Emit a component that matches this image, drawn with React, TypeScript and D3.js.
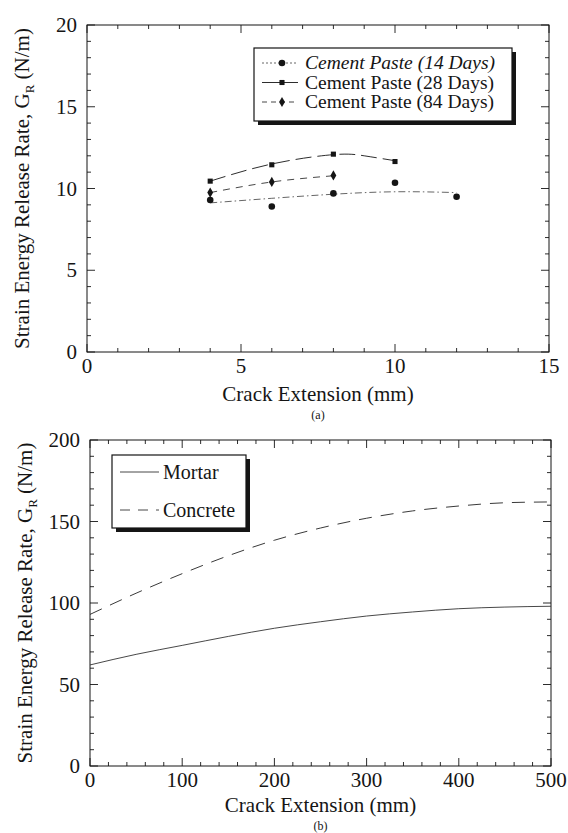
import * as d3 from "d3";

// panel (a): cement paste, measured points
const pasteX14 = [4, 6, 8, 10, 12];
const pasteY14 = [9.3, 8.9, 9.7, 10.35, 9.5];
const pasteX28 = [4, 6, 8, 10];
const pasteY28 = [10.45, 11.45, 12.1, 11.65];
const pasteX84 = [4, 6, 8];
const pasteY84 = [9.75, 10.4, 10.8];

// panel (a): fitted curves
const fitX14 = [4, 6, 8, 10, 12];
const fitY14 = [9.12, 9.4, 9.65, 9.8, 9.75];
const fitX28 = [4, 6, 8, 9, 10];
const fitY28 = [10.45, 11.5, 12.07, 12.0, 11.7];
const fitX84 = [4, 6, 8];
const fitY84 = [9.75, 10.4, 10.78];

// panel (b): mortar / concrete curves
const crackB = [0, 50, 100, 150, 200, 250, 300, 350, 400, 450, 500];
const mortar = [62, 68.5, 74, 79.5, 84.5, 88.5, 92, 94.5, 96.5, 97.5, 98];
const concrete = [93, 106, 118, 129, 138.5, 146, 152, 156.5, 159.5, 161.5, 162];

const ticksA_x = [0, 5, 10, 15];
const ticksA_y = [0, 5, 10, 15, 20];
const ticksB_x = [0, 100, 200, 300, 400, 500];
const ticksB_y = [0, 50, 100, 150, 200];

const legendA = ["Cement Paste (14 Days)", "Cement Paste (28 Days)", "Cement Paste (84 Days)"];
const legendB = ["Mortar", "Concrete"];

const FONT = "Liberation Serif, Times New Roman, Times, serif";
const INK = "#151515";

const zip = (xs: number[], ys: number[]) => xs.map((x, i) => [x, ys[i]] as [number, number]);

function Frame({ x, y, xTicks, yTicks, minorX, minorY, panel, titleDy, panelDy }: any) {
  const [x0, x1] = x.range();
  const [y0, y1] = y.range();
  const minX = d3.range(x.domain()[0], x.domain()[1] + 1e-9, minorX);
  const minY = d3.range(y.domain()[0], y.domain()[1] + 1e-9, minorY);
  return (
    <g>
      <rect x={x0} y={y1} width={x1 - x0} height={y0 - y1} fill="none" stroke={INK} strokeWidth={1} />
      {minX.map((v: number, i: number) => {
        const big = xTicks.includes(+v.toFixed(6));
        const l = big ? 8 : 4;
        return (
          <g key={"mx" + i} stroke={INK} strokeWidth={0.9}>
            <line x1={x(v)} x2={x(v)} y1={y0} y2={y0 - l} />
            <line x1={x(v)} x2={x(v)} y1={y1} y2={y1 + l} />
          </g>
        );
      })}
      {minY.map((v: number, i: number) => {
        const big = yTicks.includes(+v.toFixed(6));
        const l = big ? 8 : 4;
        return (
          <g key={"my" + i} stroke={INK} strokeWidth={0.9}>
            <line x1={x0} x2={x0 + l} y1={y(v)} y2={y(v)} />
            <line x1={x1} x2={x1 - l} y1={y(v)} y2={y(v)} />
          </g>
        );
      })}
      {xTicks.map((v: number) => (
        <text key={"tx" + v} x={x(v)} y={y0 + 21} textAnchor="middle" fontSize={21} fill={INK}>
          {v}
        </text>
      ))}
      {yTicks.map((v: number) => (
        <text key={"ty" + v} x={x0 - 10} y={y(v) + 7} textAnchor="end" fontSize={21} fill={INK}>
          {v}
        </text>
      ))}
      <text x={(x0 + x1) / 2} y={y0 + titleDy} textAnchor="middle" fontSize={21} fill={INK}>
        Crack Extension (mm)
      </text>
      <text x={(x0 + x1) / 2} y={y0 + panelDy} textAnchor="middle" fontSize={12} fill={INK}>
        {panel}
      </text>
      <text
        transform={`translate(${x0 - 58},${(y0 + y1) / 2}) rotate(-90)`}
        textAnchor="middle"
        fontSize={21}
        fill={INK}
      >
        Strain Energy Release Rate, G
        <tspan fontSize={13} dy={5}>R</tspan>
        <tspan dy={-5}> (N/m)</tspan>
      </text>
    </g>
  );
}

export default function App() {
  // panel (a)
  const xa = d3.scaleLinear().domain([0, 15]).range([87, 549]);
  const ya = d3.scaleLinear().domain([0, 20]).range([352, 25]);
  // panel (b)
  const xb = d3.scaleLinear().domain([0, 500]).range([90, 551]);
  const yb = d3.scaleLinear().domain([0, 200]).range([766, 440]);

  const lineA = d3.line<[number, number]>().x((d) => xa(d[0])).y((d) => ya(d[1])).curve(d3.curveNatural);
  const lineB = d3.line<[number, number]>().x((d) => xb(d[0])).y((d) => yb(d[1])).curve(d3.curveMonotoneX);

  const diamond = d3.symbol().type(d3.symbolDiamond).size(30)() as string;
  const square = d3.symbol().type(d3.symbolSquare).size(26)() as string;

  const seriesA = [
    { xs: pasteX14, ys: pasteY14, fx: fitX14, fy: fitY14, dash: "7,3,1.5,3", color: "#555", kind: "circle" },
    { xs: pasteX28, ys: pasteY28, fx: fitX28, fy: fitY28, dash: "16,6", color: INK, kind: "square" },
    { xs: pasteX84, ys: pasteY84, fx: fitX84, fy: fitY84, dash: "7,6", color: "#333", kind: "diamond" },
  ];

  const marker = (kind: string, cx: number, cy: number, key: string) => {
    if (kind === "circle") return <circle key={key} cx={cx} cy={cy} r={3.3} fill={INK} />;
    const p = kind === "square" ? square : diamond;
    return <path key={key} d={p} transform={`translate(${cx},${cy})`} fill={INK} />;
  };

  // legend geometry (a)
  const lgA = { x: 254, y: 48, w: 258, h: 73 };
  // legend geometry (b)
  const lgB = { x: 112, y: 455, w: 134, h: 73 };

  return (
    <div style={{ position: "absolute", left: 0, top: 0, background: "#fff" }}>
      <svg width={568} height={833} style={{ display: "block", fontFamily: FONT }}>
        <rect width={568} height={833} fill="#fff" />

        {/* ---------- panel (a) ---------- */}
        <Frame x={xa} y={ya} xTicks={ticksA_x} yTicks={ticksA_y} minorX={1} minorY={1} panel="(a)" titleDy={49} panelDy={67} />
        {seriesA.map((s, i) => (
          <g key={"sa" + i}>
            <path
              d={lineA(zip(s.fx, s.fy)) as string}
              fill="none"
              stroke={s.color}
              strokeWidth={0.9}
              strokeDasharray={s.dash}
            />
            {s.xs.map((v, j) => marker(s.kind, xa(v), ya(s.ys[j]), `m${i}-${j}`))}
          </g>
        ))}

        <rect x={lgA.x + 4} y={lgA.y + 4} width={lgA.w} height={lgA.h} fill={INK} />
        <rect x={lgA.x} y={lgA.y} width={lgA.w} height={lgA.h} fill="#fff" stroke={INK} strokeWidth={1.2} />
        {legendA.map((t, i) => {
          const cy = lgA.y + 15 + i * 19.5;
          const s = seriesA[i];
          return (
            <g key={"la" + i}>
              <line x1={lgA.x + 8} x2={lgA.x + 44} y1={cy} y2={cy} stroke={s.color} strokeWidth={0.9} strokeDasharray={i === 1 ? "none" : i === 0 ? "2,2" : "5,4"} />
              {marker(s.kind, lgA.x + 28, cy, "lm" + i)}
              <text x={lgA.x + 51} y={cy + 6} fontSize={19.5} fill={INK} fontStyle={i === 0 ? "italic" : "normal"}>
                {t}
              </text>
            </g>
          );
        })}

        {/* ---------- panel (b) ---------- */}
        <Frame x={xb} y={yb} xTicks={ticksB_x} yTicks={ticksB_y} minorX={20} minorY={10} panel="(b)" titleDy={46} panelDy={64} />
        <path d={lineB(zip(crackB, mortar)) as string} fill="none" stroke="#333" strokeWidth={0.9} />
        <path d={lineB(zip(crackB, concrete)) as string} fill="none" stroke="#222" strokeWidth={0.9} strokeDasharray="13,9" />

        <rect x={lgB.x + 4} y={lgB.y + 4} width={lgB.w} height={lgB.h} fill={INK} />
        <rect x={lgB.x} y={lgB.y} width={lgB.w} height={lgB.h} fill="#fff" stroke={INK} strokeWidth={1.2} />
        {legendB.map((t, i) => {
          const cy = lgB.y + 17 + i * 38;
          return (
            <g key={"lb" + i}>
              <line x1={lgB.x + 8} x2={lgB.x + 47} y1={cy} y2={cy} stroke="#333" strokeWidth={0.9} strokeDasharray={i === 0 ? "none" : "10,8"} />
              <text x={lgB.x + 51} y={cy + 7} fontSize={20} fill={INK}>
                {t}
              </text>
            </g>
          );
        })}
      </svg>
    </div>
  );
}
